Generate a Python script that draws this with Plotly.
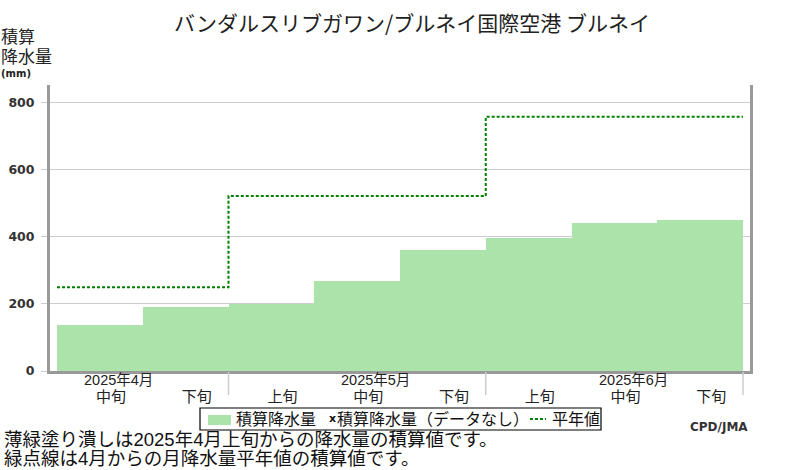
import plotly.graph_objects as go

# ---- data ----
dekad_labels = ["中旬", "下旬", "上旬", "中旬", "下旬", "上旬", "中旬", "下旬"]
cum_precip = [137, 191, 199, 268, 361, 396, 441, 450]
month_labels = ["2025年4月", "2025年5月", "2025年6月"]
month_mid_dekad = [0, 3, 6]
normal_x = [0, 2, 5, 8]          # dekad boundaries where the monthly normal steps
normal_cum = [250, 522, 758, 758]
y_ticks = [0, 200, 400, 600, 800]
title_text = "バンダルスリブガワン/ブルネイ国際空港 ブルネイ"

GREEN = "rgb(172,227,170)"
LINE_GREEN = "#008000"
CJK = "Noto Sans CJK JP"
CJK_TIGHT = "Liberation Sans, Noto Sans CJK JP"

W, H = 800, 470
L, R, T, B = 50, 50, 85, 99
PW, PH = W - L - R, H - T - B


def PX(x):
    return (x - L) / PW


def PY(y):
    return (H - B - y) / PH


fig = go.Figure()
fig.add_trace(go.Bar(
    x=[i + 0.5 for i in range(len(cum_precip))], y=cum_precip, width=1,
    marker=dict(color=GREEN, line=dict(width=0)), name="積算降水量", showlegend=False))
fig.add_trace(go.Scatter(
    x=normal_x, y=normal_cum, mode="lines", line_shape="hv",
    line=dict(color=LINE_GREEN, width=2, dash="3px,2px"), name="平年値", showlegend=False))

ann = []
shapes = []


def txt(text, x, y, size, family=CJK, color="#222", xanchor="left", weight="normal"):
    ann.append(dict(text=text, x=PX(x), y=PY(y), xref="paper", yref="paper",
                    xanchor=xanchor, yanchor="middle", showarrow=False, borderpad=0,
                    font=dict(family=family, size=size, color=color, weight=weight)))


# title
txt(title_text, 411.5, 22, 21, xanchor="center")
# y axis title
txt("積算", 0, 38, 17, family=CJK_TIGHT)
txt("降水量", 0, 57.5, 17, family=CJK_TIGHT)
txt("(mm)", 0, 74, 10, family="DejaVu Sans", weight="bold")
# month labels
for m, lab in zip(month_mid_dekad, month_labels):
    ann.append(dict(text=lab, x=m + 0.72, y=PY(380), xref="x", yref="paper", xanchor="center",
                    yanchor="middle", showarrow=False, borderpad=0,
                    font=dict(family=CJK_TIGHT, size=14.5, color="#222")))
# month separators
for xb in normal_x[1:]:
    shapes.append(dict(type="line", xref="x", yref="paper", x0=xb, x1=xb, y0=PY(372), y1=PY(395),
                       line=dict(color="#cccccc", width=1.5)))
# legend (manual)
shapes.append(dict(type="rect", xref="paper", yref="paper", x0=PX(200), x1=PX(601), y0=PY(430), y1=PY(408),
                   line=dict(color="black", width=1.2), fillcolor="white"))
shapes.append(dict(type="rect", xref="paper", yref="paper", x0=PX(208), x1=PX(231), y0=PY(425), y1=PY(415),
                   line=dict(width=0), fillcolor=GREEN))
shapes.append(dict(type="line", xref="paper", yref="paper", x0=PX(530), x1=PX(546), y0=PY(419), y1=PY(419),
                   line=dict(color=LINE_GREEN, width=2, dash="3px,2px")))
txt("積算降水量", 235, 419, 16, family=CJK_TIGHT, color="#111")
txt("x", 328, 418, 11, family="DejaVu Sans", color="#111", weight="bold")
txt("積算降水量（データなし）", 336, 419, 16, family=CJK_TIGHT, color="#111")
txt("平年値", 551, 419, 16, family=CJK_TIGHT, color="#111")
# footer
txt("CPD/JMA", 689, 427, 12, family="DejaVu Sans", color="#333", weight="bold")
txt("薄緑塗り潰しは2025年4月上旬からの降水量の積算値です。", 3, 439, 18.5, family=CJK_TIGHT, color="#111")
txt("緑点線は4月からの月降水量平年値の積算値です。", 3, 458, 18.5, family=CJK_TIGHT, color="#111")

fig.update_layout(
    width=W, height=H, margin=dict(l=L, r=R, t=T, b=B, pad=0, autoexpand=False),
    paper_bgcolor="white", plot_bgcolor="white",
    showlegend=False, bargap=0,
    annotations=ann, shapes=shapes,
    xaxis=dict(range=[(L - 57) / 85.75, (W - R - 57) / 85.75], automargin=False,
               tickvals=[i + 0.63 for i in range(len(dekad_labels))], ticktext=dekad_labels,
               ticks="", showgrid=False, zeroline=False,
               showline=True, linecolor="#999999", linewidth=3,
               tickfont=dict(family=CJK_TIGHT, size=15, color="#222"), ticklabelstandoff=10),
    yaxis=dict(range=[0, PH / (268.3 / 800)], tickvals=y_ticks, automargin=False,
               ticks="outside", ticklen=6, tickcolor="#cccccc", tickwidth=1,
               showgrid=True, gridcolor="#cccccc", gridwidth=1, zeroline=False,
               showline=True, mirror=True, linecolor="#999999", linewidth=3,
               tickfont=dict(family="DejaVu Sans", size=12.5, color="#333", weight="bold"),
               ticklabelstandoff=4),
)

fig.write_html("out.html")
